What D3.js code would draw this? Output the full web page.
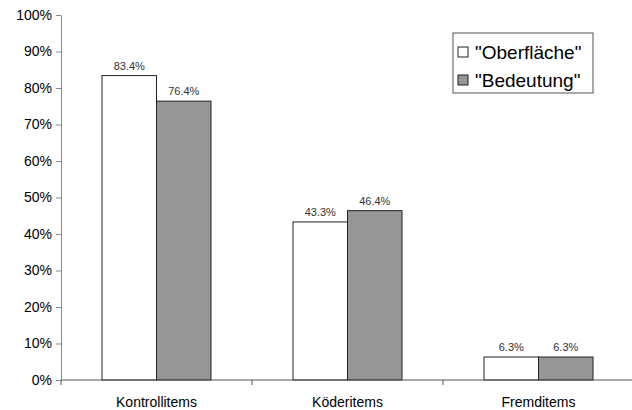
<!DOCTYPE html>
<html><head><meta charset="utf-8">
<script src="https://cdn.jsdelivr.net/npm/d3@7"></script>
<style>
html,body{margin:0;padding:0;background:#fff;}
svg{display:block;font-family:Arial,"Liberation Sans",sans-serif;}
</style></head>
<body>
<script>
const categories = ["Kontrollitems", "Köderitems", "Fremditems"];
const seriesNames = ["\"Oberfläche\"", "\"Bedeutung\""];
const oberflaeche = [83.4, 43.3, 6.3];
const bedeutung = [76.4, 46.4, 6.3];
const yTicks = [0, 10, 20, 30, 40, 50, 60, 70, 80, 90, 100];
const seriesColors = ["#ffffff", "#969696"];

const W = 632, H = 410;
const m = {left: 61, top: 15, right: -2, bottom: 30};
const svg = d3.select("body").append("svg").attr("width", W).attr("height", H);

const x = d3.scaleBand().domain(categories).range([m.left, W - m.right]).paddingInner(0).paddingOuter(0);
const y = d3.scaleLinear().domain([0, 100]).range([H - m.bottom, m.top]);

const bw = 54.5;
const data = categories.map((c, i) => ({c, vals: [oberflaeche[i], bedeutung[i]]}));

// bars with value labels
data.forEach(d => {
  const cx = x(d.c) + x.bandwidth() / 2;
  d.vals.forEach((v, s) => {
    const x0 = cx - bw + s * bw;
    svg.append("rect")
      .attr("x", x0).attr("y", y(v))
      .attr("width", bw).attr("height", y(0) - y(v))
      .attr("fill", seriesColors[s]).attr("stroke", "#222").attr("stroke-width", 1);
    svg.append("text")
      .attr("x", x0 + bw / 2).attr("y", y(v) - 6)
      .attr("text-anchor", "middle").attr("font-size", 11).attr("fill", "#333")
      .text(v.toFixed(1) + "%");
  });
});

// y axis
const yAxis = d3.axisLeft(y).tickValues(yTicks).tickFormat(d => d + "%").tickSize(5).tickSizeOuter(0);
const gy = svg.append("g").attr("transform", `translate(${m.left},0)`).call(yAxis);
gy.select(".domain").attr("stroke", "#888");
gy.selectAll(".tick line").attr("stroke", "#888");
gy.selectAll(".tick text").attr("font-size", 14).attr("fill", "#000").attr("x", -9)
  .attr("font-family", "Arial,'Liberation Sans',sans-serif");

// x axis with category separators
const gx = svg.append("g").attr("transform", `translate(0,${y(0)})`);
gx.append("line").attr("x1", m.left).attr("x2", W).attr("stroke", "#555");
const seps = categories.map(c => x(c)).concat([x(categories[categories.length-1]) + x.bandwidth()]);
gx.selectAll("line.sep").data(seps).join("line").attr("class", "sep")
  .attr("x1", d => d).attr("x2", d => d).attr("y1", 0).attr("y2", 5).attr("stroke", "#555");
gx.selectAll("text").data(categories).join("text")
  .attr("x", d => x(d) + x.bandwidth() / 2).attr("y", 27)
  .attr("text-anchor", "middle").attr("font-size", 14).attr("fill", "#000").text(d => d);

// legend
const lg = svg.append("g").attr("transform", "translate(453,33)");
lg.append("rect").attr("width", 140).attr("height", 60).attr("fill", "#fff").attr("stroke", "#555");
seriesNames.forEach((n, i) => {
  const yy = 19 + i * 28;
  lg.append("rect").attr("x", 5).attr("y", yy - 5).attr("width", 10).attr("height", 10)
    .attr("fill", seriesColors[i]).attr("stroke", "#222");
  lg.append("text").attr("x", 22).attr("y", yy).attr("dy", "0.36em")
    .attr("font-size", 19).attr("fill", "#000").text(n);
});
</script>
</body></html>
